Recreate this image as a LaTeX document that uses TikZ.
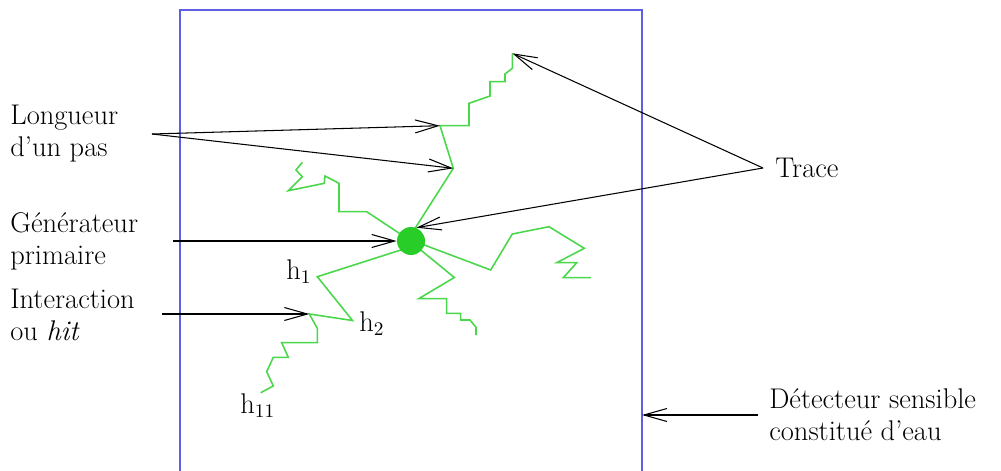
\documentclass[tikz,border=0pt]{standalone}
\usetikzlibrary{arrows.meta}

\definecolor{cadre}{RGB}{95,95,230}
\definecolor{spur}{RGB}{75,215,75}
\definecolor{punkt}{RGB}{40,205,40}

\begin{document}
\begin{tikzpicture}[
    x=0.2mm, y=-0.2mm,
    >={Straight Barb[length=4.6mm,width=2.6mm]},
    every node/.style={font=\fontsize{16.2}{18.4}\selectfont, inner sep=0pt},
    pfeil/.style={->, line width=0.6pt},
    spurlinie/.style={spur, line width=0.9pt}
]
\useasboundingbox (0,0) rectangle (1001,471);

% ============================================================
% Detektor (Kasten, unten offen)
% ============================================================
\draw[cadre, line width=0.65pt] (180,471) -- (180,10) -- (642,10) -- (642,471);
\coordinate (Rand) at (642,415);

% ============================================================
% Spuren (Schritte der Teilchen, Pixelkoordinaten)
% ============================================================
\coordinate (PasA) at (440,125.7);
\coordinate (PasB) at (453.3,168.3);
\coordinate (Spitze) at (512.3,53.3);
\coordinate (HitA) at (309.3,314);

% Spur nach oben
\draw[spurlinie] (407,241) -- (PasB) -- (PasA) -- (469,125.7) -- (469,103.3)
    -- (490,96) -- (490,81.7) -- (505,81.7) -- (505,74) -- (512.3,68.3) -- (Spitze);

% Spur nach links oben
\draw[spurlinie] (411,241) -- (366.7,211.7) -- (339,211.7) -- (339,183.3)
    -- (325,176) -- (324.3,183.3) -- (288.3,190.7) -- (302.3,176.7)
    -- (296,170) -- (302.3,162.3);

% Spur nach rechts
\draw[spurlinie] (411,240) -- (490.7,270) -- (512.3,234) -- (549,226.7)
    -- (584.3,248.3) -- (556.7,262.7) -- (576.7,262.7) -- (563.3,277.7)
    -- (591,277.7);

% Spur nach rechts unten
\draw[spurlinie] (411,242) -- (454.3,277.5) -- (418.7,298.7) -- (446.7,298.7)
    -- (446.7,313.3) -- (460.7,313.3) -- (460.7,320) -- (470,320)
    -- (476,327.3) -- (476,335);

% Spur mit Wechselwirkungen h1, h2, ... h11
\draw[spurlinie] (404,249) -- (317.3,276.7) -- (352.5,320.5) -- (HitA)
    -- (317.3,328.3) -- (317.3,342.7) -- (281.7,342.7) -- (288.3,357.3)
    -- (273.3,357.3) -- (266.7,371.7) -- (273.3,386) -- (260.7,392.7);

% Primaerer Generator
\node (Gen) [circle, fill=punkt, minimum size=5.6mm] at (411,241) {};

% ============================================================
% Beschriftung der Treffer
% ============================================================
\node (HEins) [anchor=base west] at (286,279) {h$_1$};
\node (HZwei) [anchor=base west] at (359,331) {h$_2$};
\node (HElf) [anchor=base west] at (240,413) {h$_{11}$};

% ============================================================
% Beschriftungen links
% ============================================================
\node (Pas) [anchor=west, align=left] at (10,133.5) {Longueur\\d’un pas};
\node (Generateur) [anchor=west, align=left] at (10,241.5) {Générateur\\primaire};
\node (Hit) [anchor=west, align=left] at (10,315) {Interaction\\ou \textit{hit}};

\coordinate (PasVon) at (152,134);
\coordinate (GenVon) at (173,241);
\coordinate (HitVon) at (162,314);

\draw[pfeil] (PasVon) -- (PasA);
\draw[pfeil] (PasVon) -- (PasB);
\draw[pfeil] (GenVon) -- (Gen.west);
\draw[pfeil] (HitVon) -- (HitA);

% ============================================================
% Beschriftungen rechts
% ============================================================
\node (Trace) [anchor=west, inner xsep=2.4mm] at (763,168) {Trace};
\node (Detecteur) [anchor=west, inner xsep=2.2mm, align=left] at (758,415)
    {Détecteur sensible\\constitué d’eau};

\draw[pfeil] (Trace.west) -- (Spitze);
\draw[pfeil] (Trace.west) -- (Gen.68);
\draw[pfeil] (Detecteur.west) -- (Detecteur.west -| Rand);

\end{tikzpicture}
\end{document}
